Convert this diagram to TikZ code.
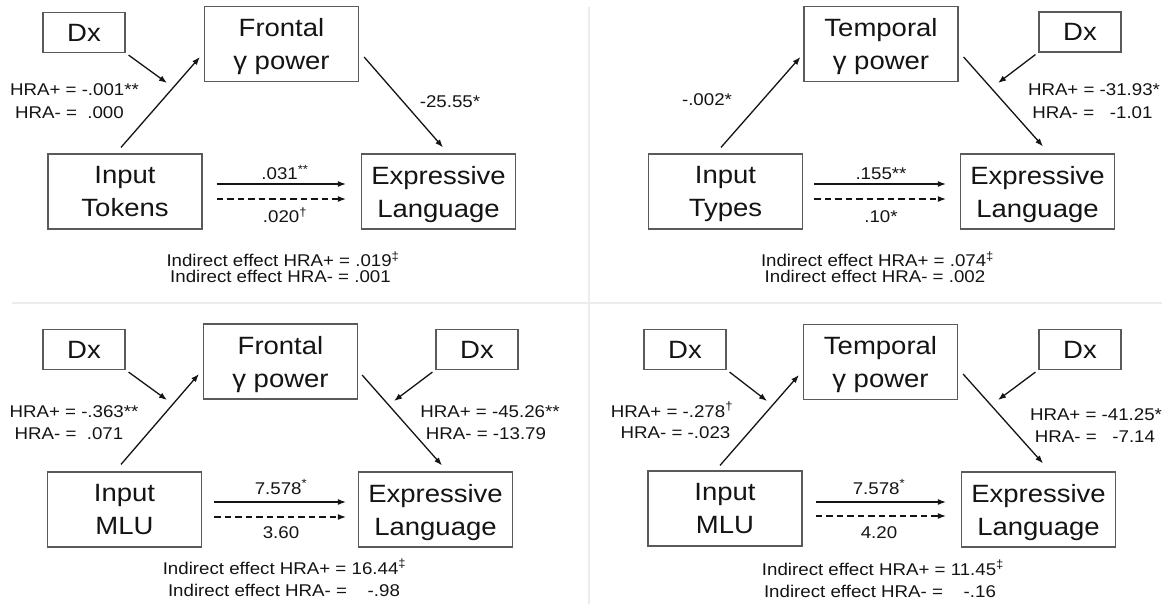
\documentclass[tikz,border=0pt]{standalone}
\usepackage{fontspec}
\setmainfont[FakeStretch=1.1]{Liberation Sans}
\usetikzlibrary{arrows.meta}
\newcommand\bigf{\fontsize{25}{33}\selectfont}
\newcommand\smf{\fontsize{17}{22}\selectfont}
\definecolor{boxgray}{HTML}{5A5A5A}
\definecolor{ink}{HTML}{141414}
\definecolor{sep}{HTML}{ECECEC}
\tikzset{
  bx/.style={draw=boxgray, line width=1.2pt, inner sep=0pt, align=center, font=\bigf, text=ink, text depth=0pt},
  bigbox/.style={bx, minimum width=154pt, minimum height=75pt},
  dxbox/.style={bx, minimum width=82pt, minimum height=40pt},
  lbl/.style={font=\smf, text=ink, inner sep=0pt, text height=12pt, text depth=0pt, anchor=center},
  arr/.style={draw=ink, line width=1.3pt, -{Latex[length=8pt,width=6pt]}},
  darr/.style={arr, dash pattern=on 6.5pt off 4pt},
  sepline/.style={draw=sep, line width=2pt}
}
\begin{document}
\begin{tikzpicture}[x=1pt,y=-1pt]
\fill[white] (0,0) rectangle (1171,604);
\useasboundingbox (0,0) rectangle (1171,604);
% separators
\coordinate (vs1) at (589,7);
\coordinate (vs2) at (589,604);
\coordinate (hs1) at (12,303);
\coordinate (hs2) at (1162,303);
\draw[sepline] (vs1) -- (vs2);
\draw[sepline] (hs1) -- (hs2);

% ===== Panel A (top-left) =====
\node[dxbox] (dxA) at (84,32.5) {Dx};
\node[bigbox] (frA) at (281.5,44) {Frontal\\γ power};
\node[bigbox] (inA) at (125,191.5) {Input\\Tokens};
\node[bigbox] (exA) at (438.5,191.5) {Expressive\\Language};
\coordinate (mA) at (167,83);
\draw[arr] ([shift={(-4,-6)}]inA.north) -- ([shift={(-4,13)}]frA.west);
\draw[arr] ([shift={(5,13)}]frA.east) -- ([shift={(4.5,-6)}]exA.north);
\draw[arr] ([shift={(3,2)}]dxA.south east) -- (mA);
\draw[arr] ([shift={(14,-7.5)}]inA.east) -- ([shift={(-15,-7.5)}]exA.west);
\draw[darr] ([shift={(14,7.5)}]inA.east) -- ([shift={(-15,7.5)}]exA.west);
\node[lbl] (a1) at (285,174) {.031\textsuperscript{**}};
\node[lbl] (a2) at (285,217) {.020\textsuperscript{†}};
\node[lbl] (a3) at (450,102) {-25.55*};
\node[lbl] (a4) at (74.5,90) {HRA+ = -.001**};
\node[lbl] (a5) at (69.5,113) {HRA- =\ \ .000};
\node[lbl] (a6) at (283,261) {Indirect effect HRA+ = .019\textsuperscript{‡}};
\node[lbl] (a7) at (280.5,277) {Indirect effect HRA- = .001};

% ===== Panel B (top-right) =====
\node[bigbox] (teB) at (881,44) {Temporal\\γ power};
\node[dxbox] (dxB) at (1080,32) {Dx};
\node[bigbox] (inB) at (725.5,191.5) {Input\\Types};
\node[bigbox] (exB) at (1037.5,191.5) {Expressive\\Language};
\coordinate (mB) at (998,83);
\draw[arr] ([shift={(-4.5,-6)}]inB.north) -- ([shift={(-3,13)}]teB.west);
\draw[arr] ([shift={(5,13)}]teB.east) -- ([shift={(5.5,-7)}]exB.north);
\draw[arr] ([shift={(-3,2)}]dxB.south west) -- (mB);
\draw[arr] ([shift={(11,-7.5)}]inB.east) -- ([shift={(-14,-7.5)}]exB.west);
\draw[darr] ([shift={(11,7.5)}]inB.east) -- ([shift={(-14,7.5)}]exB.west);
\node[lbl] (b1) at (881,174) {.155**};
\node[lbl] (b2) at (881,217) {.10*};
\node[lbl] (b3) at (707,100) {-.002*};
\node[lbl] (b4) at (1094,90) {HRA+ = -31.93*};
\node[lbl] (b5) at (1092.5,113) {HRA- =\ \ \ -1.01};
\node[lbl] (b6) at (877.5,261) {Indirect effect HRA+ = .074\textsuperscript{‡}};
\node[lbl] (b7) at (875,277) {Indirect effect HRA- = .002};

% ===== Panel C (bottom-left) =====
\node[dxbox] (dxC) at (84,349.5) {Dx};
\node[bigbox] (frC) at (280.5,361.5) {Frontal\\γ power};
\node[dxbox] (dyC) at (477,349.5) {Dx};
\node[bigbox] (inC) at (124.5,509.5) {Input\\MLU};
\node[bigbox] (exC) at (435.5,509.5) {Expressive\\Language};
\coordinate (mC) at (167,400);
\coordinate (nC) at (394,401);
\draw[arr] ([shift={(-3.5,-7)}]inC.north) -- ([shift={(-4,12.5)}]frC.west);
\draw[arr] ([shift={(4,13.5)}]frC.east) -- ([shift={(6.5,-6)}]exC.north);
\draw[arr] ([shift={(3,2)}]dxC.south east) -- (mC);
\draw[arr] ([shift={(-3,2)}]dyC.south west) -- (nC);
\draw[arr] ([shift={(12,-7.5)}]inC.east) -- ([shift={(-12,-7.5)}]exC.west);
\draw[darr] ([shift={(12,7.5)}]inC.east) -- ([shift={(-12,7.5)}]exC.west);
\node[lbl] (c1) at (281,488) {7.578\textsuperscript{*}};
\node[lbl] (c2) at (281,532) {3.60};
\node[lbl] (c4) at (74,411) {HRA+ = -.363**};
\node[lbl] (c5) at (69,433) {HRA- =\ \ .071};
\node[lbl] (c6) at (490,411) {HRA+ = -45.26**};
\node[lbl] (c7) at (486,433) {HRA- = -13.79};
\node[lbl] (c8) at (284.5,568) {Indirect effect HRA+ = 16.44\textsuperscript{‡}};
\node[lbl] (c9) at (284,590) {Indirect effect HRA- =\ \ \ \ -.98};

% ===== Panel D (bottom-right) =====
\node[dxbox] (dxD) at (685,349.5) {Dx};
\node[bigbox] (teD) at (880.5,362) {Temporal\\γ power};
\node[dxbox] (dyD) at (1080,349.5) {Dx};
\node[bigbox] (inD) at (725,508.5) {Input\\MLU};
\node[bigbox] (exD) at (1038.5,509.5) {Expressive\\Language};
\coordinate (mD) at (767,401);
\coordinate (nD) at (998,400);
\draw[arr] ([shift={(-5,-5)}]inD.north) -- ([shift={(-4,13)}]teD.west);
\draw[arr] ([shift={(5,12)}]teD.east) -- ([shift={(4.5,-8)}]exD.north);
\draw[arr] ([shift={(3,2)}]dxD.south east) -- (mD);
\draw[arr] ([shift={(-3,2)}]dyD.south west) -- (nD);
\draw[arr] ([shift={(13,-6.5)}]inD.east) -- ([shift={(-15,-7.5)}]exD.west);
\draw[darr] ([shift={(13,7.5)}]inD.east) -- ([shift={(-15,6.5)}]exD.west);
\node[lbl] (d1) at (879,488) {7.578\textsuperscript{*}};
\node[lbl] (d2) at (879,532) {4.20};
\node[lbl] (d4) at (672,411) {HRA+ = -.278\textsuperscript{†}};
\node[lbl] (d5) at (675.5,432) {HRA- = -.023};
\node[lbl] (d6) at (1096,414) {HRA+ = -41.25*};
\node[lbl] (d7) at (1095,436) {HRA- =\ \ \ -7.14};
\node[lbl] (d8) at (883,569) {Indirect effect HRA+ = 11.45\textsuperscript{‡}};
\node[lbl] (d9) at (880,591) {Indirect effect HRA- =\ \ \ \ -.16};
\end{tikzpicture}
\end{document}
